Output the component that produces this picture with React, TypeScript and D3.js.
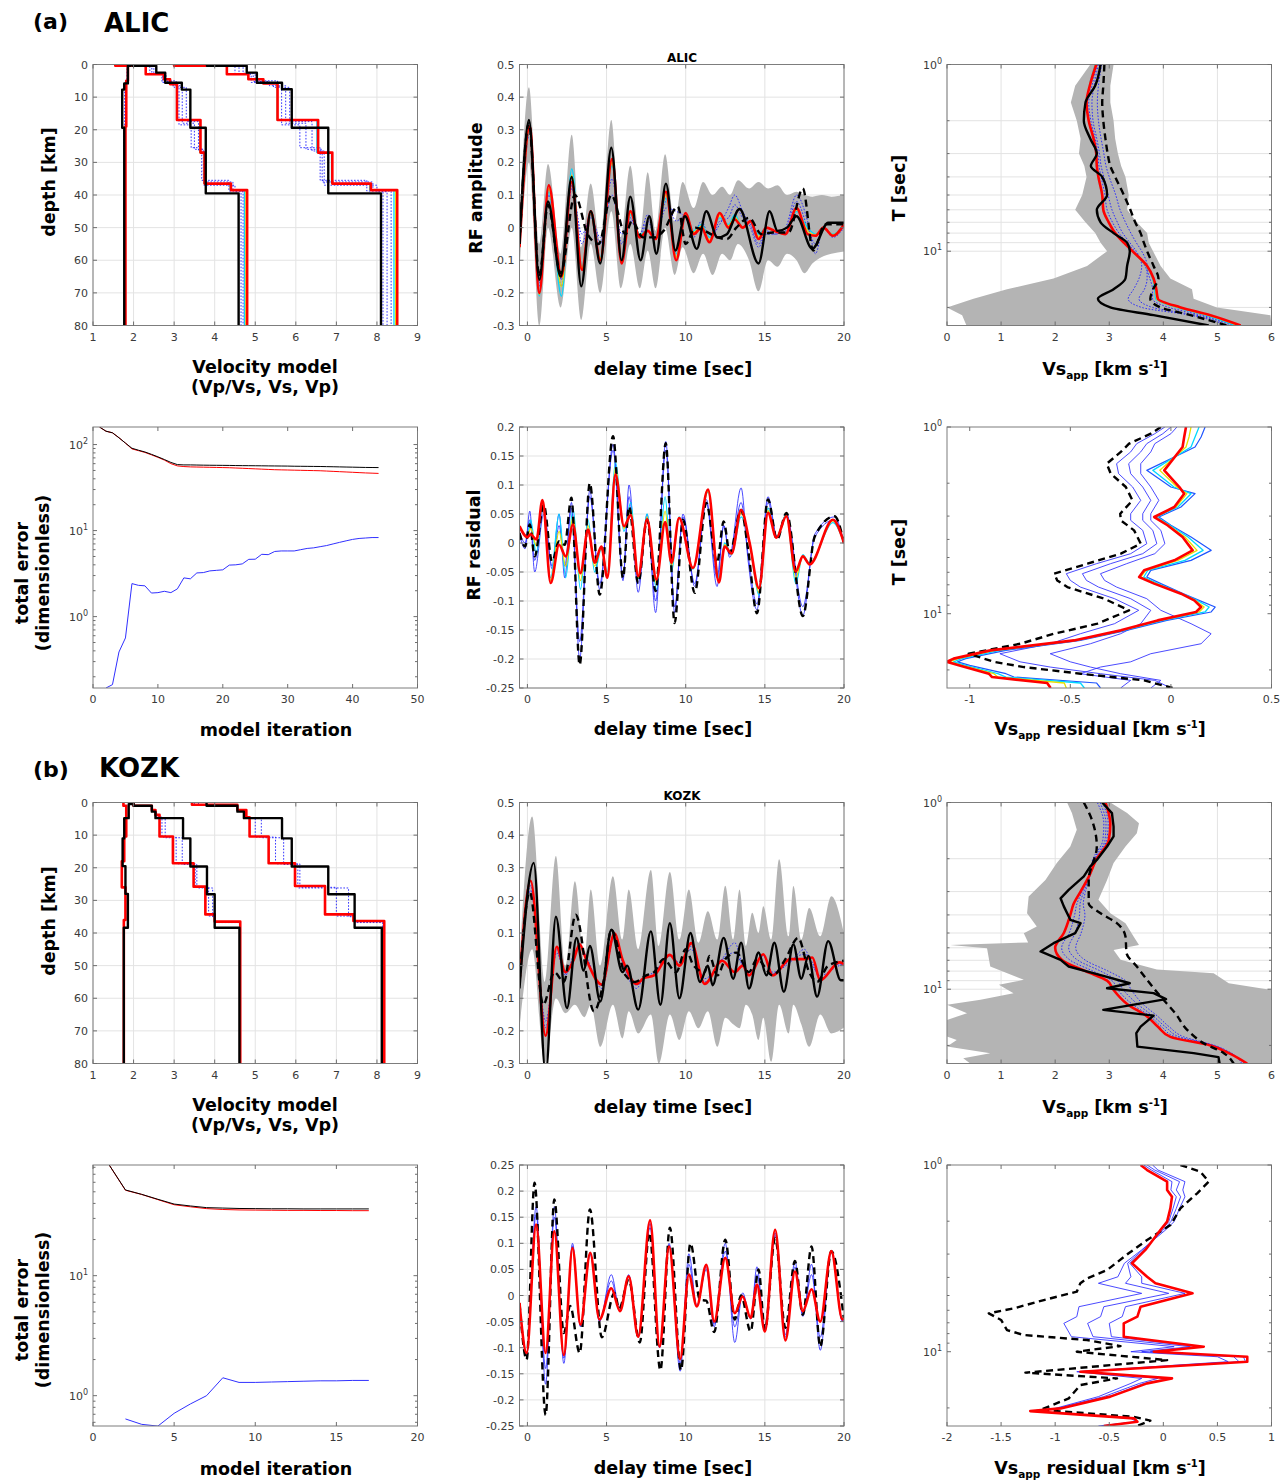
import React from 'react';
import * as d3 from 'd3';

const FONT = "'DejaVu Sans', Verdana, sans-serif";

// ---------- tick values ----------
const velTicks = [1, 2, 3, 4, 5, 6, 7, 8, 9];
const depthTicks = [0, 10, 20, 30, 40, 50, 60, 70, 80];
const delayTicks = [0, 5, 10, 15, 20];
const rfTicks = [-0.3, -0.2, -0.1, 0, 0.1, 0.2, 0.3, 0.4, 0.5];
const alicResTicks = [-0.25, -0.2, -0.15, -0.1, -0.05, 0, 0.05, 0.1, 0.15, 0.2];
const kozkResTicks = [-0.25, -0.2, -0.15, -0.1, -0.05, 0, 0.05, 0.1, 0.15, 0.2, 0.25];
const vsTicks = [0, 1, 2, 3, 4, 5, 6];
const periodTicks = [1, 10];
const alicVsResTicks = [-1, -0.5, 0, 0.5];
const kozkVsResTicks = [-2, -1.5, -1, -0.5, 0, 0.5, 1];
const alicIterTicks = [0, 10, 20, 30, 40, 50];
const kozkIterTicks = [0, 5, 10, 15, 20];
const alicErrTicks = [1, 10, 100];
const kozkErrTicks = [1, 10];

// ---------- ALIC velocity models: [layer top depth km, value] ----------
const alicRedVpVs = [[0, 1.55], [0.4, 1.86], [5, 1.82], [19, 1.8]];
const alicBlackVpVs = [[0, 1.93], [0.4, 1.86], [5.8, 1.77], [7.7, 1.72], [19.4, 1.77]];
const alicIterVpVs = [[0, 1.9], [0.4, 1.84], [5.8, 1.78], [19.4, 1.76], [26, 1.79]];
const alicRedVs = [[0, 1.95], [0.4, 2.3], [3, 2.75], [4.5, 2.9], [6, 3.07], [17, 3.65], [27, 3.75], [36.5, 4.4], [38.5, 4.8]];
const alicBlackVs = [[0, 1.98], [0.4, 2.56], [2.5, 2.78], [5.6, 3.19], [7.7, 3.4], [19.4, 3.78], [39.5, 4.59]];
const alicIterVs1 = [[0, 1.98], [0.4, 2.45], [2.8, 2.7], [5.2, 2.95], [6.5, 3.2], [18, 3.5], [26, 3.72], [36, 4.45], [38.5, 4.65]];
const alicIterVs2 = [[0, 1.97], [0.4, 2.4], [3, 2.72], [5.5, 3.0], [7, 3.3], [17.5, 3.6], [26.5, 3.73], [37, 4.5], [39, 4.7]];
const alicIterVs3 = [[0, 1.96], [0.4, 2.5], [2.7, 2.8], [5, 3.05], [6.8, 3.12], [18.5, 3.42], [25.5, 3.68], [35.5, 4.35], [38.8, 4.73]];
const alicCyanVs = [[0, 1.95], [0.4, 2.3], [3, 2.75], [4.5, 2.9], [6, 3.06], [17, 3.63], [27, 3.74], [36.5, 4.38], [38.5, 4.74]];
const alicYellowVs = [[0, 1.95], [0.4, 2.3], [3, 2.75], [4.5, 2.9], [6, 3.065], [17, 3.64], [27, 3.745], [36.5, 4.39], [38.5, 4.77]];
const alicRedVp = [[0, 3.0], [0.4, 4.3], [3, 4.83], [4.5, 5.2], [5.8, 5.55], [17, 6.55], [27, 6.9], [36.5, 7.85], [38.5, 8.5]];
const alicBlackVp = [[0, 3.81], [0.4, 4.79], [2.5, 5.04], [5.6, 5.66], [7.6, 5.9], [19.4, 6.8], [39.5, 8.1]];
const alicIterVp1 = [[0, 3.8], [0.4, 4.6], [2.8, 4.95], [5.2, 5.35], [6.5, 5.75], [18, 6.25], [26, 6.65], [36, 7.9], [38.5, 8.15]];
const alicIterVp2 = [[0, 3.6], [0.4, 4.5], [3, 4.9], [5.5, 5.45], [7, 5.85], [17.5, 6.4], [26.5, 6.7], [37, 8.0], [39, 8.25]];
const alicIterVp3 = [[0, 3.9], [0.4, 4.7], [2.7, 5.0], [5, 5.55], [6.8, 5.65], [18.5, 6.1], [25.5, 6.6], [35.5, 7.75], [38.8, 8.35]];
const alicCyanVp = [[0, 3.0], [0.4, 4.3], [3, 4.83], [4.5, 5.2], [5.8, 5.54], [17, 6.52], [27, 6.88], [36.5, 7.82], [38.5, 8.42]];
const alicYellowVp = [[0, 3.0], [0.4, 4.3], [3, 4.83], [4.5, 5.2], [5.8, 5.545], [17, 6.54], [27, 6.89], [36.5, 7.84], [38.5, 8.46]];

// ---------- KOZK velocity models ----------
const kozkRedVpVs = [[0, 1.75], [1, 1.82], [10.4, 1.77], [18, 1.71], [26, 1.8], [36, 1.76]];
const kozkBlackVpVs = [[0, 1.95], [0.5, 1.88], [4.8, 1.77], [11, 1.73], [19.5, 1.8], [28, 1.86], [38.4, 1.76]];
const kozkRedVs = [[0, 2.0], [1, 2.45], [2.3, 2.54], [3.8, 2.64], [10.4, 2.97], [18.6, 3.48], [25.8, 3.77], [34.3, 4.0], [36.5, 4.63]];
const kozkBlackVs = [[0, 2.0], [1, 2.45], [2.8, 2.54], [4.8, 3.22], [11, 3.4], [19.6, 3.81], [28.1, 4.0], [38.4, 4.61]];
const kozkIterVs1 = [[0, 2.0], [1, 2.45], [2.5, 2.55], [4.5, 2.7], [10.6, 3.05], [18.8, 3.52], [26, 3.85], [34.8, 4.02], [36.6, 4.62]];
const kozkIterVs2 = [[0, 2.0], [1, 2.45], [2.6, 2.56], [4.6, 2.78], [10.8, 3.2], [19, 3.56], [26.2, 3.95], [35, 4.0], [36.8, 4.62]];
const kozkRedVp = [[0, 3.44], [0.7, 4.56], [2.3, 4.78], [4.5, 4.86], [10.4, 5.33], [18.6, 5.98], [25.6, 6.72], [34.3, 7.42], [36.3, 8.18]];
const kozkBlackVp = [[0, 3.8], [1, 4.56], [2.8, 4.72], [4.8, 5.66], [11, 5.9], [19.6, 6.8], [28.1, 7.45], [38.4, 8.12]];
const kozkIterVp1 = [[0, 3.5], [0.8, 4.56], [2.5, 4.75], [4.6, 5.0], [10.6, 5.5], [18.8, 6.1], [26, 7.0], [34.8, 7.45], [36.6, 8.16]];
const kozkIterVp2 = [[0, 3.6], [0.9, 4.56], [2.6, 4.76], [4.7, 5.15], [10.8, 5.7], [19, 6.05], [26.2, 7.3], [35, 7.45], [36.8, 8.14]];

// ---------- ALIC receiver function ----------
const alicEnvT = [-0.5, 0.1, 0.75, 1.3, 2.1, 2.8, 3.4, 4.0, 4.6, 5.3, 5.9, 6.5, 7.1, 7.6, 8.1, 8.7, 9.3, 9.8, 10.5, 11.1, 11.7, 12.3, 12.8, 13.3, 14.0, 14.6, 15.2, 15.8, 16.4, 17.0, 17.5, 18.0, 18.6, 19.2, 20];
const alicEnvUp = [0.0, 0.43, -0.05, 0.195, -0.08, 0.285, -0.06, 0.135, -0.04, 0.33, -0.03, 0.19, -0.02, 0.17, -0.01, 0.225, 0.02, 0.14, 0.06, 0.14, 0.1, 0.125, 0.1, 0.145, 0.12, 0.14, 0.12, 0.13, 0.1, 0.11, 0.1, 0.095, 0.1, 0.095, 0.1];
const alicEnvLo = [-0.13, 0.2, -0.3, 0.0, -0.245, 0.0, -0.283, -0.05, -0.2, 0.05, -0.186, -0.05, -0.186, -0.07, -0.186, 0.0, -0.145, -0.06, -0.14, -0.08, -0.145, -0.08, -0.1, -0.05, -0.1, -0.195, -0.1, -0.12, -0.08, -0.1, -0.14, -0.11, -0.09, -0.08, -0.073];
const alicRfT = [-0.5, 0.15, 0.75, 1.35, 2.15, 2.8, 3.45, 4.0, 4.6, 5.35, 5.95, 6.5, 7.1, 7.6, 8.1, 8.75, 9.4, 10.0, 10.5, 11.0, 11.5, 12.15, 12.7, 13.1, 13.6, 14.1, 14.6, 15.1, 15.6, 16.3, 17.0, 17.7, 18.2, 18.7, 19.3, 20];
const alicRfRed = [-0.06, 0.31, -0.2, 0.13, -0.15, 0.14, -0.13, 0.05, -0.1, 0.21, -0.11, 0.05, -0.03, -0.01, -0.035, 0.11, -0.1, 0.045, -0.02, 0.0, -0.045, 0.045, 0.0, 0.025, 0.0, 0.02, -0.035, 0.0, -0.01, -0.02, 0.06, -0.02, -0.025, 0.0, -0.025, 0.01];
const alicRfCyan = [-0.06, 0.3, -0.21, 0.11, -0.21, 0.18, -0.12, 0.04, -0.09, 0.19, -0.1, 0.04, -0.02, -0.01, -0.03, 0.09, -0.08, 0.04, -0.01, 0.01, -0.03, 0.03, 0.01, 0.04, 0.0, 0.02, -0.02, 0.0, -0.01, -0.02, 0.05, 0.0, -0.02, 0.0, -0.02, 0.01];
const alicRfYellow = [-0.06, 0.305, -0.205, 0.12, -0.18, 0.16, -0.125, 0.045, -0.095, 0.2, -0.105, 0.045, -0.025, -0.01, -0.032, 0.1, -0.09, 0.043, -0.015, 0.005, -0.038, 0.038, 0.005, 0.032, 0.0, 0.02, -0.028, 0.0, -0.01, -0.02, 0.055, -0.01, -0.022, 0.0, -0.022, 0.01];
const alicRfBlue1 = [-0.05, 0.29, -0.17, 0.1, -0.18, 0.12, -0.02, 0.03, -0.03, 0.1, -0.02, 0.02, -0.02, 0.04, -0.03, 0.06, 0.05, 0.03, -0.02, 0.02, -0.03, 0.01, 0.06, 0.1, 0.05, 0.0, -0.06, -0.02, -0.02, 0.0, 0.1, 0.02, -0.08, 0.0, -0.03, 0.0];
const alicRfBlue2 = [-0.05, 0.3, -0.18, 0.12, -0.16, 0.13, -0.05, 0.04, -0.05, 0.15, -0.05, 0.03, -0.03, 0.02, -0.03, 0.08, 0.02, 0.04, -0.03, 0.01, -0.04, 0.02, 0.03, 0.07, 0.03, 0.01, -0.05, -0.01, -0.02, -0.01, 0.08, 0.0, -0.05, 0.0, -0.025, 0.005];
const alicRfBlack = [[-0.5, -0.05], [0.1, 0.33], [0.75, -0.16], [1.3, 0.08], [2.1, -0.15], [2.8, 0.155], [3.4, -0.18], [4.0, 0.05], [4.6, -0.11], [5.3, 0.245], [5.95, -0.1], [6.5, 0.095], [7.15, -0.1], [7.7, 0.035], [8.15, -0.08], [8.75, 0.135], [9.35, -0.07], [9.95, 0.035], [10.7, -0.065], [11.3, 0.05], [12.0, -0.03], [12.6, -0.02], [13.4, 0.057], [14.6, -0.11], [15.3, 0.05], [15.8, -0.01], [16.4, 0.0], [17.0, 0.035], [18.0, -0.065], [19.0, 0.015], [20, 0.015]];
const alicRfDash = [[-0.5, -0.05], [0.1, 0.32], [0.75, -0.15], [1.3, 0.07], [2.1, -0.14], [3.0, 0.1], [3.8, -0.02], [4.5, -0.05], [5.3, 0.1], [6.2, -0.02], [6.6, 0.02], [7.3, -0.03], [8.0, -0.03], [8.6, -0.01], [9.5, 0.065], [10.0, -0.05], [10.6, 0.0], [11.2, -0.01], [12.0, -0.03], [12.6, -0.035], [13.2, 0.0], [14.0, 0.03], [14.8, -0.02], [15.5, -0.015], [16.5, -0.015], [17.4, 0.12], [18.05, -0.07], [18.8, 0.01], [20, 0.01]];

// ---------- ALIC RF residual ----------
const alicResT = [-0.5, 0.0, 0.2, 0.57, 0.95, 1.47, 2.0, 2.42, 2.88, 3.35, 3.83, 4.25, 4.67, 5.05, 5.56, 6.1, 6.53, 7.0, 7.56, 8.15, 8.7, 9.1, 9.58, 10.46, 11.41, 12.1, 12.46, 12.9, 13.5, 14.04, 14.63, 15.2, 15.73, 16.36, 16.95, 17.4, 17.83, 19.3, 20];
const alicResRed = [0.029, 0.01, 0.015, 0.006, 0.074, -0.069, -0.003, -0.023, 0.032, -0.052, 0.023, -0.034, -0.006, -0.06, 0.118, 0.029, 0.048, -0.057, 0.041, -0.063, 0.036, -0.034, 0.043, -0.043, 0.092, -0.068, -0.006, -0.018, 0.057, 0.0, -0.078, 0.052, 0.009, 0.046, -0.049, -0.023, -0.037, 0.04, 0.0];
const alicResCyan = [0.025, 0.012, 0.04, -0.02, 0.065, -0.06, 0.05, -0.06, 0.06, -0.08, 0.04, -0.05, -0.01, -0.05, 0.14, 0.02, 0.07, -0.062, 0.05, -0.08, 0.08, -0.05, 0.045, -0.045, 0.088, -0.06, 0.0, -0.02, 0.045, 0.0, -0.09, 0.06, 0.01, 0.05, -0.07, -0.02, -0.035, 0.035, 0.0];
const alicResYellow = [0.027, 0.011, 0.025, -0.005, 0.07, -0.065, 0.02, -0.04, 0.045, -0.065, 0.03, -0.04, -0.008, -0.055, 0.13, 0.025, 0.058, -0.06, 0.045, -0.07, 0.055, -0.04, 0.044, -0.044, 0.09, -0.065, -0.003, -0.019, 0.052, 0.0, -0.085, 0.056, 0.01, 0.048, -0.06, -0.022, -0.036, 0.038, 0.0];
const alicResDashT = [-0.5, -0.15, 0.15, 0.46, 1.03, 1.56, 2.0, 2.36, 2.78, 3.3, 3.94, 4.57, 5.41, 6.04, 6.42, 7.0, 7.56, 8.1, 8.74, 9.3, 9.83, 10.57, 11.3, 11.98, 12.4, 12.78, 13.5, 13.94, 14.5, 15.2, 15.77, 16.36, 17.4, 18.15, 19.4, 20];
const alicResDash = [0.017, -0.006, 0.032, -0.023, 0.066, -0.032, 0.003, -0.003, 0.078, -0.21, 0.103, -0.089, 0.184, -0.06, 0.063, -0.069, 0.04, -0.083, 0.172, -0.138, 0.04, -0.086, 0.069, -0.034, 0.037, -0.017, 0.057, -0.011, -0.121, 0.075, 0.006, 0.052, -0.126, 0.011, 0.046, 0.0];
const alicResBlue1 = [0.015, -0.01, 0.055, -0.05, 0.05, -0.04, 0.05, -0.06, 0.07, -0.2, 0.09, -0.08, 0.17, -0.065, 0.1, -0.085, 0.05, -0.12, 0.175, -0.12, 0.05, -0.075, 0.07, -0.075, 0.03, -0.02, 0.095, -0.03, -0.115, 0.08, 0.01, 0.05, -0.125, 0.015, 0.045, 0.0];
const alicResBlue2 = [0.02, 0.0, 0.04, -0.03, 0.06, -0.045, 0.03, -0.04, 0.06, -0.17, 0.08, -0.07, 0.16, -0.06, 0.08, -0.07, 0.045, -0.1, 0.16, -0.11, 0.045, -0.07, 0.075, -0.06, 0.03, -0.025, 0.07, -0.02, -0.105, 0.07, 0.01, 0.05, -0.11, 0.01, 0.04, 0.0];

// ---------- apparent Vs vs period (shared period grid, s) ----------
const periodGrid = [1, 1.3, 1.6, 2, 2.5, 3, 3.5, 4, 5, 6, 7, 8, 9, 10, 12, 14, 16, 18, 20, 22, 25];
const alicVsRed = [2.76, 2.64, 2.58, 2.62, 2.71, 2.76, 2.77, 2.8, 2.87, 2.89, 2.99, 3.11, 3.27, 3.43, 3.7, 3.82, 3.87, 3.9, 4.32, 4.87, 5.43];
const alicVsBlack = [2.84, 2.74, 2.56, 2.53, 2.65, 2.77, 2.66, 2.87, 2.96, 2.77, 2.84, 3.08, 3.33, 3.38, 3.33, 3.3, 3.08, 2.79, 3.02, 3.82, 4.84];
const alicVsDash = [2.91, 2.89, 2.87, 2.89, 2.93, 2.97, 3.02, 3.11, 3.27, 3.39, 3.48, 3.58, 3.64, 3.7, 3.82, 3.91, 3.81, 3.76, 3.95, 4.5, 5.18];
const alicVsBlue1 = [2.8, 2.72, 2.68, 2.7, 2.77, 2.82, 2.85, 2.9, 2.98, 3.05, 3.15, 3.25, 3.38, 3.5, 3.6, 3.55, 3.45, 3.35, 3.6, 4.5, 5.2];
const alicVsBlue2 = [2.86, 2.8, 2.78, 2.8, 2.85, 2.9, 2.94, 3.0, 3.12, 3.2, 3.3, 3.4, 3.5, 3.6, 3.7, 3.7, 3.65, 3.55, 3.8, 4.6, 5.3];
const alicVsBlue3 = [2.78, 2.68, 2.62, 2.66, 2.74, 2.79, 2.81, 2.85, 2.92, 2.96, 3.06, 3.18, 3.33, 3.47, 3.66, 3.75, 3.8, 3.8, 4.1, 4.7, 5.35];
const alicVsCyan = [2.74, 2.63, 2.58, 2.62, 2.7, 2.75, 2.76, 2.79, 2.86, 2.88, 2.98, 3.1, 3.26, 3.42, 3.68, 3.8, 3.84, 3.86, 4.24, 4.78, 5.33];
const alicVsYellow = [2.75, 2.635, 2.58, 2.62, 2.705, 2.755, 2.765, 2.795, 2.865, 2.885, 2.985, 3.105, 3.265, 3.425, 3.69, 3.81, 3.855, 3.88, 4.28, 4.83, 5.38];
const alicVsEnvLeft = [2.65, 2.37, 2.29, 2.4, 2.47, 2.44, 2.54, 2.58, 2.5, 2.37, 2.56, 2.74, 2.84, 2.96, 2.59, 1.97, 1.11, 0.49, 0.0, 0.28, 0.36];
const alicVsEnvRight = [3.08, 3.02, 3.02, 3.08, 3.11, 3.16, 3.22, 3.3, 3.36, 3.33, 3.51, 3.7, 3.73, 3.81, 3.95, 4.13, 4.53, 4.56, 4.99, 5.98, 6.0];

// ---------- ALIC Vs residual: [period, residual] ----------
const alicVsResT = [1.0, 1.131, 1.28, 1.707, 2.096, 2.276, 2.683, 3.035, 3.36, 3.884, 4.578, 5.179, 5.858, 6.36, 6.9, 7.81, 8.48, 9.21, 9.79, 10.86, 12.28, 13.9, 15.72, 17.4, 18.1, 18.9, 20.96, 21.84, 23.5, 25];
const alicVsResRed = [0.075, 0.066, 0.058, -0.033, 0.042, 0.066, 0.017, -0.083, -0.017, 0.058, 0.108, 0.017, -0.133, -0.158, -0.083, 0.05, 0.116, 0.15, 0.125, -0.066, -0.249, -0.482, -0.897, -1.08, -1.113, -1.055, -0.905, -0.889, -0.615, -0.598];
const alicVsResJetBlue = [0.17, 0.15, 0.12, -0.12, 0.0, 0.12, 0.05, -0.06, 0.0, 0.1, 0.2, 0.1, -0.1, -0.12, -0.05, 0.06, 0.14, 0.22, 0.2, -0.02, -0.22, -0.45, -0.82, -1.02, -1.06, -1.0, -0.82, -0.78, -0.37, -0.35];
const alicVsResCyan = [0.14, 0.12, 0.1, -0.09, 0.015, 0.1, 0.035, -0.07, -0.005, 0.085, 0.16, 0.07, -0.115, -0.135, -0.065, 0.055, 0.13, 0.19, 0.17, -0.04, -0.235, -0.465, -0.85, -1.04, -1.08, -1.02, -0.86, -0.82, -0.45, -0.43];
const alicVsResYellow = [0.1, 0.09, 0.075, -0.055, 0.03, 0.08, 0.025, -0.078, -0.012, 0.07, 0.13, 0.035, -0.125, -0.15, -0.075, 0.05, 0.12, 0.165, 0.14, -0.055, -0.245, -0.475, -0.88, -1.06, -1.1, -1.04, -0.88, -0.86, -0.53, -0.52];
const alicVsResDashT = [1.0, 1.086, 1.228, 1.36, 1.572, 1.778, 2.096, 2.471, 2.913, 3.162, 3.577, 4.217, 4.77, 5.396, 6.105, 6.63, 7.2, 8.31, 9.59, 11.31, 12.8, 14.48, 16.38, 18.1, 19.31, 20.96, 22.76, 25];
const alicVsResDash = [-0.05, -0.1, -0.208, -0.249, -0.319, -0.299, -0.224, -0.191, -0.252, -0.249, -0.183, -0.15, -0.249, -0.415, -0.581, -0.565, -0.515, -0.332, -0.208, -0.365, -0.581, -0.748, -1.005, -0.88, -0.731, -0.449, -0.133, 0.008];
const alicVsResBlue1 = [-0.03, -0.08, -0.17, -0.2, -0.27, -0.26, -0.19, -0.15, -0.2, -0.2, -0.14, -0.12, -0.2, -0.37, -0.52, -0.5, -0.45, -0.28, -0.16, -0.28, -0.45, -0.6, -0.85, -0.75, -0.6, -0.35, -0.08, 0.0];
const alicVsResBlue2 = [0.0, -0.04, -0.12, -0.15, -0.21, -0.2, -0.14, -0.1, -0.14, -0.14, -0.09, -0.07, -0.14, -0.3, -0.44, -0.42, -0.36, -0.2, -0.1, -0.15, -0.25, -0.4, -0.6, -0.5, -0.4, -0.25, -0.05, -0.1];
const alicVsResBlue3 = [0.03, 0.0, -0.08, -0.1, -0.15, -0.15, -0.1, -0.06, -0.1, -0.1, -0.05, -0.03, -0.08, -0.22, -0.35, -0.33, -0.27, -0.12, -0.05, 0.1, 0.2, 0.15, -0.1, -0.2, -0.35, -0.45, -0.2, -0.25];

// ---------- total error vs iteration ----------
const alicErrBlack = [160, 143, 137, 120, 104, 90.6, 86, 82, 77, 72, 67, 62, 58.5, 58, 58, 57.8, 57.6, 57.5, 57.4, 57.3, 57.2, 57, 56.9, 56.8, 56.7, 56.6, 56.5, 56.4, 56.3, 56.2, 56, 55.9, 55.8, 55.7, 55.6, 55.4, 55.2, 55, 54.8, 54.6, 54.4, 54.2, 54.1, 54];
const alicErrRed = [160, 143, 137, 120, 104, 89, 85, 81, 76, 71, 66, 60, 56.5, 55.5, 55, 54.8, 54.6, 54.4, 54.2, 54, 53.8, 53.4, 53, 52.6, 52.2, 51.8, 51.4, 51, 50.8, 50.6, 50.4, 50.2, 50, 49.8, 49.6, 49.2, 48.8, 48.4, 48, 47.6, 47.2, 46.8, 46.5, 46.2];
const alicErrBlue = [0.148, 0.162, 0.388, 0.565, 2.42, 2.31, 2.28, 1.88, 1.9, 1.97, 1.9, 2.1, 2.82, 2.75, 3.22, 3.25, 3.4, 3.45, 3.5, 3.97, 4.0, 4.1, 4.63, 4.65, 5.3, 5.25, 5.72, 5.8, 5.8, 5.8, 6.0, 6.2, 6.3, 6.5, 6.7, 7.0, 7.3, 7.6, 7.9, 8.1, 8.2, 8.3, 8.3];
const kozkErrBlack = [83.6, 51.8, 47.6, 43.3, 39.5, 38.1, 36.9, 36.6, 36.3, 36.2, 36.1, 36.1, 36.0, 36.0, 36.0, 36.0, 36.0];
const kozkErrRed = [83.6, 51.5, 47.5, 43, 39, 37.5, 36.2, 35.6, 35.3, 35.2, 35.1, 35.0, 35.0, 34.9, 34.9, 34.8, 34.8];
const kozkErrBlue = [0.64, 0.577, 0.558, 0.713, 0.853, 1.0, 1.41, 1.29, 1.29, 1.3, 1.31, 1.32, 1.33, 1.33, 1.34, 1.34];

// ---------- KOZK receiver function ----------
const kozkEnvT = [-0.5, 0.3, 1.1, 1.8, 2.4, 3.0, 3.6, 4.0, 4.6, 5.4, 6.0, 6.4, 7.0, 7.8, 8.3, 9.0, 9.6, 10.2, 10.8, 11.4, 12.0, 12.5, 13.0, 13.4, 13.8, 14.2, 14.6, 14.9, 15.4, 15.9, 16.5, 16.8, 17.3, 17.8, 18.5, 19.2, 20];
const kozkEnvUp = [0.0, 0.457, -0.05, 0.336, 0.0, 0.259, 0.02, 0.233, 0.0, 0.274, 0.08, 0.233, 0.05, 0.293, 0.06, 0.287, 0.08, 0.233, 0.07, 0.167, 0.08, 0.245, 0.08, 0.233, 0.06, 0.162, 0.1, 0.182, 0.08, 0.326, 0.09, 0.244, 0.08, 0.177, 0.09, 0.213, 0.1];
const kozkEnvLo = [-0.19, 0.05, -0.3, -0.1, -0.146, -0.12, -0.158, -0.12, -0.249, -0.12, -0.223, -0.14, -0.208, -0.15, -0.3, -0.15, -0.228, -0.14, -0.192, -0.14, -0.249, -0.16, -0.18, -0.192, -0.12, -0.15, -0.228, -0.16, -0.295, -0.12, -0.208, -0.12, -0.18, -0.249, -0.15, -0.208, -0.19];
const kozkRfT = [-0.5, 0.2, 1.15, 1.85, 2.4, 2.9, 3.3, 3.7, 4.7, 5.5, 6.0, 6.9, 7.3, 8.0, 9.0, 9.6, 10.35, 11.2, 12.3, 13.1, 13.6, 14.0, 14.9, 15.5, 16.6, 17.5, 18.0, 18.5, 19.7, 20];
const kozkRfRed = [-0.05, 0.26, -0.215, 0.058, -0.02, 0.015, 0.065, 0.02, -0.058, 0.098, 0.02, -0.056, -0.04, -0.03, 0.033, 0.0, 0.069, -0.056, 0.015, -0.02, 0.0, -0.03, 0.035, -0.03, 0.02, 0.02, 0.025, -0.045, 0.01, 0.005];
const kozkRfBlue1 = [-0.05, 0.23, -0.17, 0.04, -0.03, 0.03, 0.06, 0.03, -0.07, 0.09, 0.01, -0.07, -0.04, -0.02, 0.03, 0.01, 0.05, -0.04, 0.02, 0.07, 0.0, -0.02, 0.03, -0.02, 0.01, 0.05, 0.0, -0.03, 0.0, 0.005];
const kozkRfBlue2 = [-0.05, 0.245, -0.19, 0.05, -0.025, 0.02, 0.06, 0.025, -0.06, 0.095, 0.015, -0.06, -0.04, -0.025, 0.03, 0.0, 0.06, -0.05, 0.018, 0.04, 0.0, -0.025, 0.032, -0.025, 0.015, 0.035, 0.01, -0.04, 0.005, 0.005];
const kozkRfBlack = [[-0.5, -0.07], [0.4, 0.315], [1.15, -0.33], [1.8, 0.15], [2.5, -0.13], [3.1, 0.085], [3.55, -0.015], [3.95, 0.06], [4.6, -0.11], [5.3, 0.11], [6.0, -0.02], [6.3, 0.0], [7.0, -0.135], [7.8, 0.105], [8.4, -0.12], [9.0, 0.13], [9.6, -0.1], [10.3, 0.1], [10.9, -0.05], [11.4, 0.0], [11.7, -0.06], [12.4, 0.085], [13.0, -0.04], [13.5, 0.07], [14.0, -0.07], [14.6, 0.04], [15.1, -0.03], [15.6, 0.07], [16.2, -0.08], [16.8, 0.065], [17.3, -0.04], [17.75, 0.03], [18.3, -0.095], [19.0, 0.075], [19.8, -0.045], [20, -0.045]];
const kozkRfDash = [[-0.5, -0.05], [0.15, 0.225], [1.0, -0.12], [1.7, -0.02], [2.3, -0.05], [3.05, 0.156], [4.2, -0.14], [4.8, -0.05], [5.3, 0.11], [6.2, -0.03], [6.8, -0.05], [7.5, -0.03], [8.0, -0.02], [8.6, 0.02], [9.4, -0.02], [10.0, 0.05], [10.5, 0.0], [11.2, -0.02], [11.5, 0.03], [12.0, -0.03], [12.5, 0.02], [13.2, 0.04], [14.0, -0.02], [14.5, 0.02], [15.5, -0.03], [16.3, 0.02], [17.1, 0.085], [17.8, -0.02], [18.3, -0.05], [19.0, 0.0], [20, 0.015]];

// ---------- KOZK apparent Vs ----------
const kozkVsRed = [2.93, 3.02, 2.99, 2.77, 2.62, 2.47, 2.34, 2.28, 2.16, 2.0, 2.13, 2.56, 2.96, 3.07, 3.33, 3.7, 3.91, 4.13, 4.87, 5.21, 5.55];
const kozkVsBlue1 = [2.88, 2.98, 2.95, 2.74, 2.62, 2.5, 2.4, 2.36, 2.26, 2.12, 2.28, 2.7, 3.05, 3.15, 3.42, 3.76, 3.98, 4.22, 4.9, 5.22, 5.55];
const kozkVsBlue2 = [2.83, 2.94, 2.92, 2.72, 2.63, 2.53, 2.46, 2.45, 2.37, 2.25, 2.42, 2.84, 3.15, 3.25, 3.52, 3.82, 4.05, 4.3, 4.93, 5.24, 5.5];
const kozkVsBlue3 = [2.78, 2.9, 2.88, 2.7, 2.64, 2.56, 2.52, 2.55, 2.48, 2.38, 2.56, 2.98, 3.3, 3.4, 3.62, 3.9, 4.12, 4.38, 4.95, 5.26, 5.45];
const kozkVsBlack = [[1.0, 2.87], [1.14, 3.05], [1.345, 3.08], [1.52, 3.08], [1.72, 2.96], [2.03, 2.77], [2.2, 2.65], [2.49, 2.53], [2.94, 2.25], [3.26, 2.1], [3.6, 2.16], [4.25, 2.28], [4.43, 2.47], [5.01, 2.37], [5.67, 1.97], [6.28, 1.73], [6.96, 2.1], [7.56, 2.25], [8.4, 2.84], [9.29, 3.38], [9.88, 2.96], [10.5, 3.82], [11.31, 4.05], [12.9, 2.89], [13.85, 3.82], [15.85, 3.58], [17.2, 3.5], [20.3, 3.52], [22, 4.56], [23.1, 5.02], [25, 5.04]];
const kozkVsDash = [[1.0, 2.53], [1.24, 2.68], [1.72, 2.77], [2.6, 2.62], [3.46, 2.62], [3.92, 2.84], [4.43, 3.14], [5.22, 3.3], [6.41, 3.32], [7.56, 3.51], [8.91, 3.7], [10.95, 3.95], [13.45, 4.22], [16.5, 4.44], [19.5, 4.75], [22, 5.12], [25, 5.3]];
const kozkVsEnvLeft = [[1.0, 2.22], [1.14, 2.31], [1.4, 2.4], [1.72, 2.28], [2.11, 2.03], [2.6, 1.82], [3.19, 1.51], [3.92, 1.48], [4.62, 1.66], [5.01, 1.42], [5.62, 1.5], [5.79, 0.06], [6.03, 0.74], [7.56, 0.8], [8.91, 1.42], [9.47, 0.96], [10.5, 1.23], [11.4, 0.62], [12.1, 0.0], [13.45, 0.37], [14.6, 0.0], [17.9, 0.0], [18.7, 0.18], [20.3, 0.0], [22, 0.8], [23.4, 0.3], [25, 0.43]];
const kozkVsEnvRight = [[1.0, 3.02], [1.14, 3.33], [1.29, 3.55], [1.46, 3.51], [1.72, 3.3], [2.11, 3.08], [2.6, 2.96], [3.32, 2.8], [3.92, 3.02], [4.43, 3.3], [5.22, 3.45], [5.79, 3.55], [6.16, 3.08], [6.96, 3.21], [7.85, 3.88], [8.21, 4.93], [9.29, 5.21], [10.1, 6.0], [25, 6.0]];

// ---------- KOZK RF residual ----------
const kozkResT = [-0.5, -0.05, 0.55, 1.15, 1.7, 2.3, 2.85, 3.35, 3.97, 4.55, 5.3, 5.85, 6.4, 7.0, 7.75, 8.35, 8.95, 9.65, 10.2, 10.7, 11.3, 11.8, 12.5, 13.1, 13.6, 14.1, 14.5, 15.0, 15.65, 16.3, 16.9, 17.4, 17.95, 18.5, 19.2, 19.9, 20];
const kozkResRed = [-0.014, -0.11, 0.136, -0.11, 0.123, -0.114, 0.091, -0.056, 0.082, -0.046, 0.014, -0.03, 0.037, -0.079, 0.144, -0.098, 0.094, -0.122, 0.04, -0.021, 0.059, -0.05, 0.072, -0.034, -0.002, -0.043, 0.021, -0.069, 0.126, -0.086, 0.046, -0.03, 0.012, -0.05, 0.085, -0.046, -0.043];
const kozkResBlue1 = [-0.015, -0.115, 0.17, -0.17, 0.17, -0.13, 0.1, -0.06, 0.08, -0.05, 0.04, -0.03, 0.04, -0.08, 0.13, -0.1, 0.1, -0.145, 0.08, -0.02, 0.05, -0.06, 0.1, -0.09, 0.005, -0.045, 0.055, -0.065, 0.115, -0.075, 0.065, -0.04, 0.06, -0.105, 0.085, -0.05, -0.045];
const kozkResBlue2 = [-0.015, -0.112, 0.155, -0.14, 0.15, -0.12, 0.095, -0.058, 0.08, -0.048, 0.028, -0.03, 0.038, -0.079, 0.138, -0.1, 0.097, -0.13, 0.06, -0.02, 0.055, -0.055, 0.085, -0.06, 0.0, -0.044, 0.04, -0.067, 0.12, -0.08, 0.055, -0.035, 0.04, -0.08, 0.085, -0.048, -0.044];
const kozkResDashT = [-0.5, -0.05, 0.45, 1.15, 1.7, 2.3, 2.7, 3.3, 3.95, 4.7, 5.5, 5.8, 6.4, 7.1, 7.7, 8.4, 9.0, 9.7, 10.3, 10.9, 11.3, 11.8, 12.5, 13.1, 13.5, 14.1, 14.6, 15.0, 15.65, 16.3, 16.9, 17.4, 17.95, 18.5, 19.2, 20];
const kozkResDash = [-0.015, -0.123, 0.216, -0.229, 0.184, -0.072, -0.02, -0.11, 0.165, -0.08, 0.005, -0.025, 0.03, -0.09, 0.12, -0.143, 0.13, -0.143, 0.1, -0.008, -0.01, -0.07, 0.107, -0.046, 0.0, -0.069, 0.05, -0.066, 0.11, -0.062, 0.066, -0.037, 0.094, -0.098, 0.085, -0.046];

// ---------- KOZK Vs residual ----------
const kozkVsResT = [1.0, 1.064, 1.228, 1.36, 1.48, 1.707, 2.01, 2.23, 2.85, 3.36, 3.97, 4.3, 4.87, 5.74, 6.49, 7.05, 8.31, 9.4, 10, 10.64, 11.31, 12.8, 13.9, 14.78, 17.4, 20.12, 20.8, 22.76, 23.71, 25];
const kozkVsResRed = [-0.21, -0.15, 0.035, 0.035, 0.08, 0.065, 0.035, -0.027, -0.166, -0.29, -0.15, -0.073, 0.27, -0.21, -0.24, -0.366, -0.366, 0.374, -0.088, 0.776, 0.776, -0.767, 0.08, -0.15, -0.49, -0.95, -1.23, -0.27, -0.24, -0.55];
const kozkVsResBlue1 = [-0.1, -0.05, 0.2, 0.18, 0.2, 0.15, 0.1, 0.02, -0.2, -0.36, -0.42, -0.6, -0.2, -0.78, -0.8, -0.92, -0.85, 0.1, -0.3, 0.5, 0.6, -0.8, -0.2, -0.3, -0.6, -1.0, -1.23, -0.3, -0.25, -0.6];
const kozkVsResBlue2 = [-0.15, -0.08, 0.15, 0.12, 0.16, 0.12, 0.07, 0.0, -0.19, -0.33, -0.3, -0.35, 0.05, -0.55, -0.58, -0.7, -0.65, 0.25, -0.2, 0.65, 0.7, -0.78, -0.05, -0.22, -0.55, -0.98, -1.23, -0.28, -0.24, -0.57];
const kozkVsResBlue3 = [-0.18, -0.11, 0.08, 0.07, 0.12, 0.09, 0.05, -0.015, -0.175, -0.31, -0.2, -0.2, 0.2, -0.35, -0.38, -0.5, -0.48, 0.33, -0.12, 0.74, 0.76, -0.77, 0.05, -0.18, -0.5, -0.96, -1.23, -0.27, -0.24, -0.56];
const kozkVsResDash = [[1.0, 0.158], [1.086, 0.343], [1.228, 0.42], [1.418, 0.313], [1.707, 0.158], [2.096, 0.066], [2.52, -0.15], [2.97, -0.32], [3.65, -0.52], [4.05, -0.705], [4.3, -0.767], [4.77, -0.8], [5.29, -1.105], [5.86, -1.383], [6.23, -1.614], [6.76, -1.5], [7.66, -1.445], [8.14, -1.29], [8.66, -0.705], [9.33, -0.396], [10, -0.8], [11.1, 0.035], [12.95, -1.275], [13.9, -0.428], [15.09, -0.767], [17.78, -0.874], [20.5, -1.137], [22.3, -0.274], [23.4, -0.12], [25, -0.243]];

// ---------- layout ----------
const col = [93, 519.5, 947];
const row = [64.5, 427, 802.5, 1165];
const PW = 324.5;
const PH = 261;

const sty = {
  red: { stroke: '#ff0000', w: 2.6 },
  black: { stroke: '#000000', w: 2.4 },
  dash: { stroke: '#000000', w: 2.4, dash: '7,4.5' },
  blueDot: { stroke: '#2020ff', w: 0.9, dash: '1.6,1.6' },
  blueThin: { stroke: '#2a2aff', w: 0.85 },
  jetBlue: { stroke: '#1f55ff', w: 1.2 },
  cyan: { stroke: '#00d8ff', w: 1.3 },
  yellow: { stroke: '#e8e000', w: 1.3 },
  thinRed: { stroke: '#ff0000', w: 1 },
  thinBlack: { stroke: '#000000', w: 1 },
  thinBlue: { stroke: '#3030ff', w: 1 },
};

const zip = (a, b) => a.map((d, i) => [d, b[i]]);

// staircase points [depth, value] from layer tops
function steps(layers) {
  const pts = [];
  layers.forEach(([z, v], i) => {
    const zb = i < layers.length - 1 ? layers[i + 1][0] : 80;
    pts.push([z, v], [zb, v]);
  });
  return pts;
}

function Stroke({ d, s }) {
  return <path d={d} fill="none" stroke={s.stroke} strokeWidth={s.w} strokeDasharray={s.dash || null} strokeLinejoin="round" />;
}

function Axes({ id, xs, ys, xTicks, yTicks, yLog = false, grid = true, children }) {
  const [x0, x1] = xs.range();
  const ya = ys.range();
  const y0 = Math.min(ya[0], ya[1]), y1 = Math.max(ya[0], ya[1]);
  const dom = ys.domain();
  const lo = Math.min(dom[0], dom[1]), hi = Math.max(dom[0], dom[1]);
  const minor = [];
  if (yLog) {
    for (let e = Math.floor(Math.log10(lo)); e <= Math.ceil(Math.log10(hi)); e++) {
      for (let k = 1; k < 10; k++) {
        const v = k * Math.pow(10, e);
        if (v >= lo && v <= hi) minor.push(v);
      }
    }
  }
  const gridY = yLog ? minor : yTicks;
  const tc = '#6e6e6e';
  return (
    <g>
      <clipPath id={id}><rect x={x0} y={y0} width={x1 - x0} height={y1 - y0} /></clipPath>
      {grid && (
        <g stroke="#e3e3e3" strokeWidth={1}>
          {xTicks.map(t => <line key={'gx' + t} x1={xs(t)} x2={xs(t)} y1={y0} y2={y1} />)}
          {gridY.map(t => <line key={'gy' + t} x1={x0} x2={x1} y1={ys(t)} y2={ys(t)} />)}
        </g>
      )}
      <g clipPath={`url(#${id})`}>{children}</g>
      <rect x={x0} y={y0} width={x1 - x0} height={y1 - y0} fill="none" stroke="#7d7d7d" strokeWidth={1} />
      <g stroke={tc} strokeWidth={1}>
        {xTicks.map(t => (
          <g key={'tx' + t}>
            <line x1={xs(t)} x2={xs(t)} y1={y1} y2={y1 - 4} />
            <line x1={xs(t)} x2={xs(t)} y1={y0} y2={y0 + 4} />
          </g>
        ))}
        {yTicks.map(t => (
          <g key={'ty' + t}>
            <line x1={x0} x2={x0 + 4} y1={ys(t)} y2={ys(t)} />
            <line x1={x1} x2={x1 - 4} y1={ys(t)} y2={ys(t)} />
          </g>
        ))}
        {yLog && minor.filter(t => !yTicks.includes(t)).map(t => (
          <g key={'tm' + t}>
            <line x1={x0} x2={x0 + 2.5} y1={ys(t)} y2={ys(t)} />
            <line x1={x1} x2={x1 - 2.5} y1={ys(t)} y2={ys(t)} />
          </g>
        ))}
      </g>
      <g fontSize={11} fill="#3a3a3a">
        {xTicks.map(t => (
          <text key={'lx' + t} x={xs(t)} y={y1 + 15} textAnchor="middle">{String(t)}</text>
        ))}
        {yTicks.map(t => (
          <text key={'ly' + t} x={x0 - 5} y={ys(t) + 4} textAnchor="end">
            {yLog ? <>10<tspan dy={-5} fontSize={8}>{Math.round(Math.log10(t))}</tspan></> : String(t)}
          </text>
        ))}
      </g>
    </g>
  );
}

function VelocityPanel({ id, top, lines }) {
  const xs = d3.scaleLinear().domain([1, 9]).range([col[0], col[0] + PW]);
  const ys = d3.scaleLinear().domain([0, 80]).range([top, top + PH]);
  const line = d3.line().x(d => xs(d[1])).y(d => ys(d[0]));
  return (
    <Axes id={id} xs={xs} ys={ys} xTicks={velTicks} yTicks={depthTicks}>
      {lines.map((l, i) => <Stroke key={i} d={line(steps(l.pts))} s={l.s} />)}
    </Axes>
  );
}

function RFPanel({ id, top, yDomain, yTicks, env, lines, title }) {
  const xs = d3.scaleLinear().domain([-0.5, 20]).range([col[1], col[1] + PW]);
  const ys = d3.scaleLinear().domain(yDomain).range([top + PH, top]);
  const line = d3.line().x(d => xs(d[0])).y(d => ys(d[1])).curve(d3.curveMonotoneX);
  const area = d3.area().x(d => xs(d[0])).y0(d => ys(d[2])).y1(d => ys(d[1])).curve(d3.curveMonotoneX);
  return (
    <g>
      {title && (
        <text x={682} y={top - 3} textAnchor="middle" fontSize={12} fontWeight="bold">{title}</text>
      )}
      <Axes id={id} xs={xs} ys={ys} xTicks={delayTicks} yTicks={yTicks}>
        {env && <path d={area(env[0].map((t, i) => [t, env[1][i], env[2][i]]))} fill="#b4b4b4" />}
        {lines.map((l, i) => <Stroke key={i} d={line(l.pts)} s={l.s} />)}
      </Axes>
    </g>
  );
}

// pts are [period, value]
function PeriodPanel({ id, top, xDomain, xTicks, grid, env, lines }) {
  const xs = d3.scaleLinear().domain(xDomain).range([col[2], col[2] + PW]);
  const ys = d3.scaleLog().domain([1, 25]).range([top, top + PH]);
  const poly = d3.line().x(d => xs(d[1])).y(d => ys(d[0]));
  return (
    <Axes id={id} xs={xs} ys={ys} xTicks={xTicks} yTicks={periodTicks} yLog grid={grid}>
      {env && <path d={poly(env[0].concat(env[1].slice().reverse())) + 'Z'} fill="#b4b4b4" />}
      {lines.map((l, i) => {
        const g = d3.line().x(d => xs(d[1])).y(d => ys(d[0]));
        if (l.smooth) g.curve(d3.curveMonotoneY);
        return <Stroke key={i} d={g(l.pts)} s={l.s} />;
      })}
    </Axes>
  );
}

function ErrorPanel({ id, top, xDomain, xTicks, yDomain, yTicks, lines }) {
  const xs = d3.scaleLinear().domain(xDomain).range([col[0], col[0] + PW]);
  const ys = d3.scaleLog().domain(yDomain).range([top + PH, top]);
  const line = d3.line().x(d => xs(d[0])).y(d => ys(d[1]));
  return (
    <Axes id={id} xs={xs} ys={ys} xTicks={xTicks} yTicks={yTicks} yLog grid={false}>
      {lines.map((l, i) => <Stroke key={i} d={line(l.pts)} s={l.s} />)}
    </Axes>
  );
}

const iters = n => d3.range(1, n + 1);

function VsLabel({ x, y, residual }) {
  return (
    <text x={x} y={y} textAnchor="middle" fontSize={17.5} fontWeight="bold">
      Vs<tspan fontSize={10.5} dy={4}>app</tspan>
      <tspan dy={-4}>{residual ? ' residual [km s' : ' [km s'}</tspan>
      <tspan fontSize={10} dy={-7}>-1</tspan>
      <tspan dy={7}>]</tspan>
    </text>
  );
}

function YLabel({ x, y, text }) {
  return (
    <text transform={`translate(${x},${y}) rotate(-90)`} textAnchor="middle" fontSize={17.5} fontWeight="bold">{text}</text>
  );
}

function XLabel({ x, y, text }) {
  return <text x={x} y={y} textAnchor="middle" fontSize={17.5} fontWeight="bold">{text}</text>;
}

export default function App() {
  return (
    <svg width={1287} height={1481} fontFamily={FONT} style={{ position: 'absolute', left: 0, top: 0, background: '#fff' }}>
      <rect width={1287} height={1481} fill="#fff" />

      {/* headings */}
      <text x={33} y={29} fontSize={22} fontWeight="bold">(a)</text>
      <text x={104} y={31.5} fontSize={26} fontWeight="bold">ALIC</text>
      <text x={33} y={777} fontSize={22} fontWeight="bold">(b)</text>
      <text x={99} y={776.5} fontSize={26} fontWeight="bold">KOZK</text>

      {/* ---------- (a) ALIC ---------- */}
      <VelocityPanel id="c1" top={row[0]} lines={[
        { pts: alicIterVpVs, s: sty.blueDot },
        { pts: alicIterVs1, s: sty.blueDot }, { pts: alicIterVs2, s: sty.blueDot }, { pts: alicIterVs3, s: sty.blueDot },
        { pts: alicIterVp1, s: sty.blueDot }, { pts: alicIterVp2, s: sty.blueDot }, { pts: alicIterVp3, s: sty.blueDot },
        { pts: alicCyanVs, s: sty.cyan }, { pts: alicYellowVs, s: sty.yellow },
        { pts: alicCyanVp, s: sty.cyan }, { pts: alicYellowVp, s: sty.yellow },
        { pts: alicRedVpVs, s: sty.red }, { pts: alicRedVs, s: sty.red }, { pts: alicRedVp, s: sty.red },
        { pts: alicBlackVpVs, s: sty.black }, { pts: alicBlackVs, s: sty.black }, { pts: alicBlackVp, s: sty.black },
      ]} />
      <YLabel x={55} y={182} text="depth [km]" />
      <XLabel x={265} y={373} text="Velocity model" />
      <XLabel x={265} y={393} text="(Vp/Vs, Vs, Vp)" />

      <RFPanel id="c2" top={row[0]} title="ALIC" yDomain={[-0.3, 0.5]} yTicks={rfTicks}
        env={[alicEnvT, alicEnvUp, alicEnvLo]}
        lines={[
          { pts: zip(alicRfT, alicRfBlue1), s: sty.blueDot },
          { pts: zip(alicRfT, alicRfBlue2), s: sty.blueDot },
          { pts: zip(alicRfT, alicRfCyan), s: sty.cyan },
          { pts: zip(alicRfT, alicRfYellow), s: sty.yellow },
          { pts: zip(alicRfT, alicRfRed), s: sty.red },
          { pts: alicRfBlack, s: sty.black },
          { pts: alicRfDash, s: sty.dash },
        ]} />
      <YLabel x={482} y={188} text="RF amplitude" />
      <XLabel x={673} y={375} text="delay time [sec]" />

      <PeriodPanel id="c3" top={row[0]} xDomain={[0, 6]} xTicks={vsTicks} grid
        env={[zip(periodGrid, alicVsEnvLeft), zip(periodGrid, alicVsEnvRight)]}
        lines={[
          { pts: zip(periodGrid, alicVsBlue1), s: sty.blueDot, smooth: true },
          { pts: zip(periodGrid, alicVsBlue2), s: sty.blueDot, smooth: true },
          { pts: zip(periodGrid, alicVsBlue3), s: sty.blueDot, smooth: true },
          { pts: zip(periodGrid, alicVsCyan), s: sty.cyan, smooth: true },
          { pts: zip(periodGrid, alicVsYellow), s: sty.yellow, smooth: true },
          { pts: zip(periodGrid, alicVsRed), s: sty.red, smooth: true },
          { pts: zip(periodGrid, alicVsBlack), s: sty.black, smooth: true },
          { pts: zip(periodGrid, alicVsDash), s: sty.dash, smooth: true },
        ]} />
      <YLabel x={905} y={188} text="T [sec]" />
      <VsLabel x={1105} y={375} />

      <ErrorPanel id="c4" top={row[1]} xDomain={[0, 50]} xTicks={alicIterTicks} yDomain={[0.148, 160]} yTicks={alicErrTicks}
        lines={[
          { pts: zip(iters(44).slice(1), alicErrBlue), s: sty.thinBlue },
          { pts: zip(iters(44), alicErrRed), s: sty.thinRed },
          { pts: zip(iters(44), alicErrBlack), s: sty.thinBlack },
        ]} />
      <YLabel x={28} y={573} text="total error" />
      <YLabel x={49} y={573} text="(dimensionless)" />
      <XLabel x={276} y={736} text="model iteration" />

      <RFPanel id="c5" top={row[1]} yDomain={[-0.25, 0.2]} yTicks={alicResTicks}
        lines={[
          { pts: zip(alicResDashT, alicResBlue1), s: sty.blueThin },
          { pts: zip(alicResDashT, alicResBlue2), s: sty.blueThin },
          { pts: zip(alicResT, alicResCyan), s: sty.cyan },
          { pts: zip(alicResT, alicResYellow), s: sty.yellow },
          { pts: zip(alicResDashT, alicResDash), s: sty.dash },
          { pts: zip(alicResT, alicResRed), s: sty.red },
        ]} />
      <YLabel x={480} y={545} text="RF residual" />
      <XLabel x={673} y={735} text="delay time [sec]" />

      <PeriodPanel id="c6" top={row[1]} xDomain={[-1.113, 0.5]} xTicks={alicVsResTicks} grid={false}
        lines={[
          { pts: zip(alicVsResDashT, alicVsResBlue1), s: sty.blueThin },
          { pts: zip(alicVsResDashT, alicVsResBlue2), s: sty.blueThin },
          { pts: zip(alicVsResDashT, alicVsResBlue3), s: sty.blueThin },
          { pts: zip(alicVsResT, alicVsResJetBlue), s: sty.jetBlue },
          { pts: zip(alicVsResT, alicVsResCyan), s: sty.cyan },
          { pts: zip(alicVsResT, alicVsResYellow), s: sty.yellow },
          { pts: zip(alicVsResDashT, alicVsResDash), s: sty.dash },
          { pts: zip(alicVsResT, alicVsResRed), s: sty.red },
        ]} />
      <YLabel x={905} y={552} text="T [sec]" />
      <VsLabel x={1100} y={735} residual />

      {/* ---------- (b) KOZK ---------- */}
      <VelocityPanel id="c7" top={row[2]} lines={[
        { pts: kozkIterVs1, s: sty.blueDot }, { pts: kozkIterVs2, s: sty.blueDot },
        { pts: kozkIterVp1, s: sty.blueDot }, { pts: kozkIterVp2, s: sty.blueDot },
        { pts: kozkRedVpVs, s: sty.red }, { pts: kozkRedVs, s: sty.red }, { pts: kozkRedVp, s: sty.red },
        { pts: kozkBlackVpVs, s: sty.black }, { pts: kozkBlackVs, s: sty.black }, { pts: kozkBlackVp, s: sty.black },
      ]} />
      <YLabel x={55} y={921} text="depth [km]" />
      <XLabel x={265} y={1111} text="Velocity model" />
      <XLabel x={265} y={1131} text="(Vp/Vs, Vs, Vp)" />

      <RFPanel id="c8" top={row[2]} title="KOZK" yDomain={[-0.3, 0.5]} yTicks={rfTicks}
        env={[kozkEnvT, kozkEnvUp, kozkEnvLo]}
        lines={[
          { pts: zip(kozkRfT, kozkRfBlue1), s: sty.blueDot },
          { pts: zip(kozkRfT, kozkRfBlue2), s: sty.blueDot },
          { pts: zip(kozkRfT, kozkRfRed), s: sty.red },
          { pts: kozkRfBlack, s: sty.black },
          { pts: kozkRfDash, s: sty.dash },
        ]} />
      <XLabel x={673} y={1113} text="delay time [sec]" />

      <PeriodPanel id="c9" top={row[2]} xDomain={[0, 6]} xTicks={vsTicks} grid
        env={[kozkVsEnvLeft, kozkVsEnvRight]}
        lines={[
          { pts: zip(periodGrid, kozkVsBlue1), s: sty.blueDot, smooth: true },
          { pts: zip(periodGrid, kozkVsBlue2), s: sty.blueDot, smooth: true },
          { pts: zip(periodGrid, kozkVsBlue3), s: sty.blueDot, smooth: true },
          { pts: zip(periodGrid, kozkVsRed), s: sty.red, smooth: true },
          { pts: kozkVsBlack, s: sty.black },
          { pts: kozkVsDash, s: sty.dash, smooth: true },
        ]} />
      <VsLabel x={1105} y={1113} />

      <ErrorPanel id="c10" top={row[3]} xDomain={[0, 20]} xTicks={kozkIterTicks} yDomain={[0.559, 83.6]} yTicks={kozkErrTicks}
        lines={[
          { pts: zip(iters(17).slice(1), kozkErrBlue), s: sty.thinBlue },
          { pts: zip(iters(17), kozkErrRed), s: sty.thinRed },
          { pts: zip(iters(17), kozkErrBlack), s: sty.thinBlack },
        ]} />
      <YLabel x={28} y={1310} text="total error" />
      <YLabel x={49} y={1310} text="(dimensionless)" />
      <XLabel x={276} y={1475} text="model iteration" />

      <RFPanel id="c11" top={row[3]} yDomain={[-0.25, 0.25]} yTicks={kozkResTicks}
        lines={[
          { pts: zip(kozkResT, kozkResBlue1), s: sty.blueThin },
          { pts: zip(kozkResT, kozkResBlue2), s: sty.blueThin },
          { pts: zip(kozkResDashT, kozkResDash), s: sty.dash },
          { pts: zip(kozkResT, kozkResRed), s: sty.red },
        ]} />
      <XLabel x={673} y={1474} text="delay time [sec]" />

      <PeriodPanel id="c12" top={row[3]} xDomain={[-2, 1]} xTicks={kozkVsResTicks} grid={false}
        lines={[
          { pts: zip(kozkVsResT, kozkVsResBlue1), s: sty.blueThin },
          { pts: zip(kozkVsResT, kozkVsResBlue2), s: sty.blueThin },
          { pts: zip(kozkVsResT, kozkVsResBlue3), s: sty.blueThin },
          { pts: kozkVsResDash, s: sty.dash },
          { pts: zip(kozkVsResT, kozkVsResRed), s: sty.red },
        ]} />
      <VsLabel x={1100} y={1474} residual />
    </svg>
  );
}
